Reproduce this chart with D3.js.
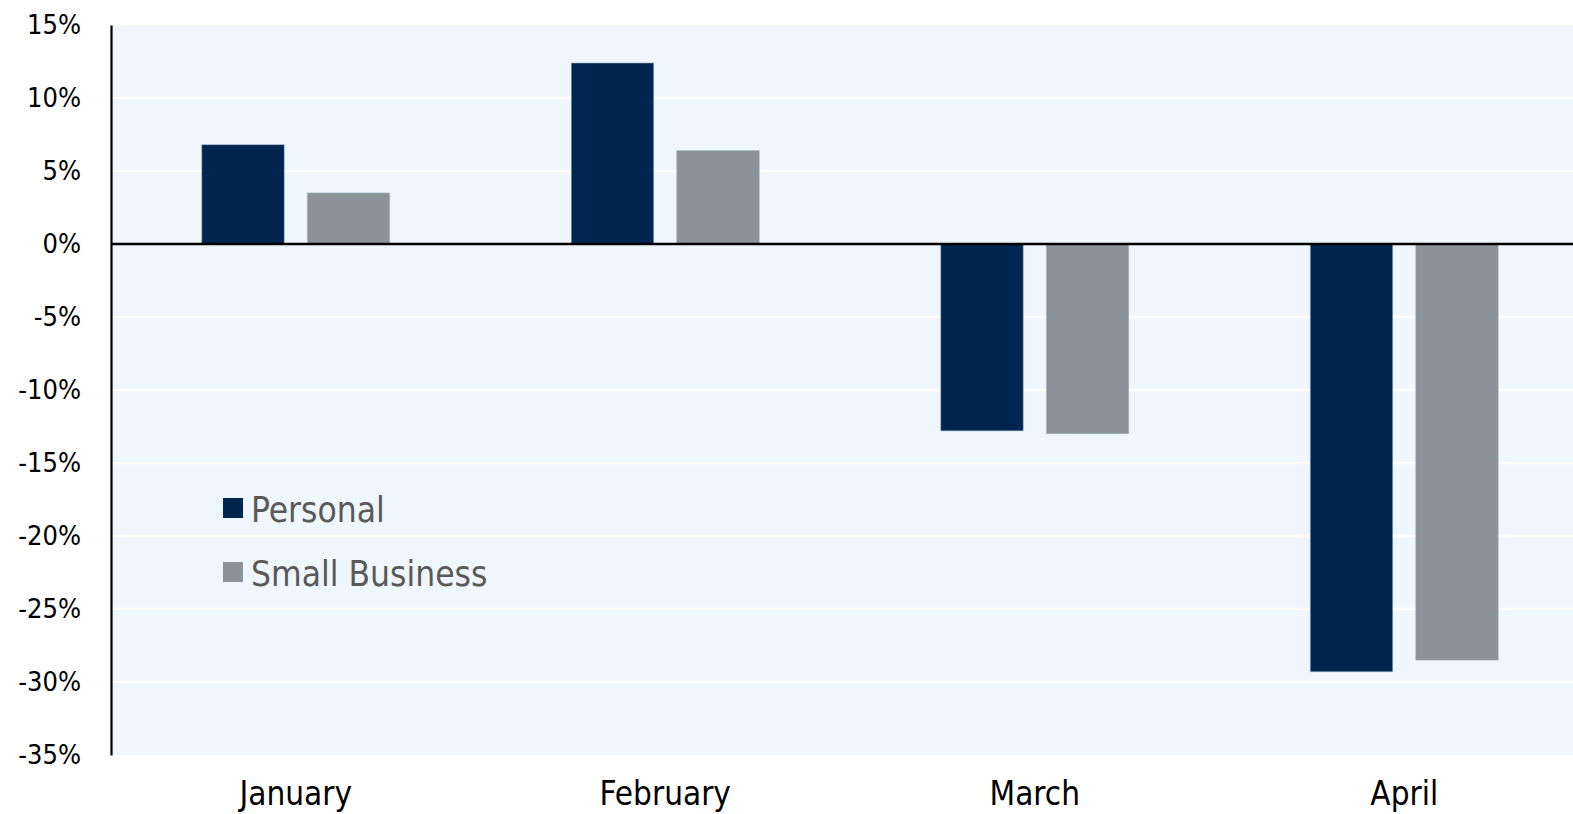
<!DOCTYPE html>
<html>
<head>
<meta charset="utf-8">
<script src="https://cdn.jsdelivr.net/npm/d3@7"></script>
<style>
  html, body { margin: 0; padding: 0; background: #ffffff; }
  svg { display: block; }
  text { font-family: "DejaVu Sans Condensed", "DejaVu Sans", sans-serif; font-stretch: condensed; }
</style>
</head>
<body>
<svg id="chart" width="1573" height="814"></svg>
<script>
// Month-over-month change by segment
const months = ["January", "February", "March", "April"];
const seriesNames = ["Personal", "Small Business"];
const personal = [6.8, 12.4, -12.8, -29.3];
const smallBusiness = [3.5, 6.4, -13.0, -28.5];
const yTicks = [15, 10, 5, 0, -5, -10, -15, -20, -25, -30, -35];
const colors = ["#00264f", "#8b929a"];

(function () {
const svg = d3.select("#chart");
const W = 1573;
const plotLeft = 111, plotTop = 25, plotBottom = 755;
const bandStep = 369.5;

const y = d3.scaleLinear().domain([-35, 15]).range([plotBottom, plotTop]);
const x0 = d3.scaleBand().domain(months).range([plotLeft, plotLeft + bandStep * months.length]).padding(0);
const x1 = d3.scaleBand().domain(seriesNames).range([0, x0.bandwidth()])
  .paddingInner(0.218).paddingOuter(0.86);

// plot background
svg.append("rect")
  .attr("x", plotLeft).attr("y", plotTop)
  .attr("width", W - plotLeft).attr("height", plotBottom - plotTop)
  .attr("fill", "#f0f6fd");

// horizontal gridlines
svg.append("g")
  .selectAll("line")
  .data(yTicks.filter(d => d !== 0 && d !== 15 && d !== -35))
  .join("line")
  .attr("x1", plotLeft).attr("x2", W)
  .attr("y1", d => y(d)).attr("y2", d => y(d))
  .attr("stroke", "#ffffff").attr("stroke-width", 2.5);

// bars
const rows = months.map((m, i) => ({ month: m, values: [personal[i], smallBusiness[i]] }));
const groups = svg.append("g").selectAll("g")
  .data(rows).join("g")
  .attr("transform", d => `translate(${x0(d.month)},0)`);

groups.selectAll("rect")
  .data(d => d.values.map((v, j) => ({ key: seriesNames[j], value: v, idx: j })))
  .join("rect")
  .attr("x", d => x1(d.key))
  .attr("width", x1.bandwidth())
  .attr("y", d => y(Math.max(0, d.value)))
  .attr("height", d => Math.abs(y(d.value) - y(0)))
  .attr("fill", d => colors[d.idx])
  .attr("stroke", "#a9bad0").attr("stroke-width", 0.8).attr("stroke-opacity", 0.7);

// zero line
svg.append("line")
  .attr("x1", plotLeft).attr("x2", W)
  .attr("y1", y(0)).attr("y2", y(0))
  .attr("stroke", "#000000").attr("stroke-width", 2.5);

// y axis
const yAxis = d3.axisLeft(y)
  .tickValues(yTicks)
  .tickSize(0)
  .tickPadding(30)
  .tickFormat(d => d + "%");
const gy = svg.append("g").attr("transform", `translate(${plotLeft},0)`).call(yAxis);
gy.select(".domain").attr("stroke", "#000").attr("stroke-width", 2.2);
gy.selectAll("text")
  .attr("font-size", 27).attr("fill", "#000")
  .style("font-family", '"DejaVu Sans Condensed", "DejaVu Sans", sans-serif');

// month labels
const xAxis = d3.axisBottom(x0).tickSize(0).tickPadding(0);
const gx = svg.append("g").attr("transform", `translate(0,${plotBottom})`).call(xAxis);
gx.select(".domain").remove();
gx.selectAll("text")
  .attr("font-size", 33).attr("fill", "#000")
  .attr("dy", null).attr("y", 50)
  .style("font-family", '"DejaVu Sans Condensed", "DejaVu Sans", sans-serif');

// legend
const legend = svg.append("g");
const legendRows = [{ name: seriesNames[0], color: colors[0], y: 498 }, { name: seriesNames[1], color: colors[1], y: 562 }];
legend.selectAll("rect").data(legendRows).join("rect")
  .attr("x", 223).attr("y", d => d.y)
  .attr("width", 20).attr("height", 20)
  .attr("fill", d => d.color);
legend.selectAll("text").data(legendRows).join("text")
  .attr("x", 251).attr("y", d => d.y + 24)
  .attr("font-size", 35).attr("fill", "#595959")
  .text(d => d.name);
})();
</script>
</body>
</html>
